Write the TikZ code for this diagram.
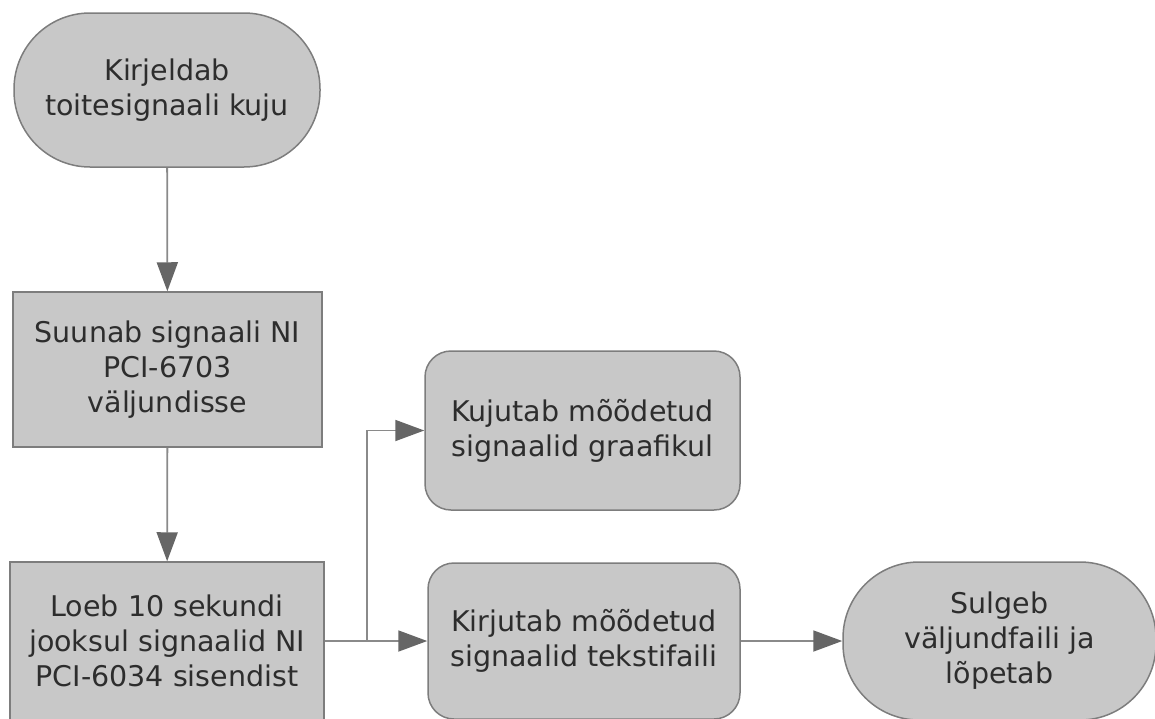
\documentclass[tikz,border=0pt]{standalone}
\usepackage{fontspec}
\setmainfont{DejaVu Sans}
\usetikzlibrary{arrows.meta,positioning}
\definecolor{boxfill}{RGB}{200,200,200}
\definecolor{boxline}{RGB}{125,125,125}
\definecolor{arrowgray}{RGB}{102,102,102}
\definecolor{linegray}{RGB}{138,138,138}
\definecolor{textgray}{RGB}{45,45,45}

\begin{document}
\begin{tikzpicture}[x=1pt, y=-1pt,
	every node/.style={font=\fontsize{28.5}{35}\selectfont, text=textgray, align=center},
	box/.style={draw=boxline, line width=1.5pt, fill=boxfill, minimum width=309pt, minimum height=155pt},
	roundbox/.style={box, rounded corners=26pt},
	terminal/.style={box, rounded corners=76pt},
	flow/.style={draw=linegray, line width=1.8pt, -{Triangle[length=29pt, width=21pt, color=arrowgray]}}]

	\useasboundingbox (0,0) rectangle (1155,718);
	\clip (0,0) rectangle (1155,718);

	% left column
	\node [terminal, minimum width=306pt, minimum height=154pt] (kirjeldab) at (167,90)
		{Kirjeldab\\toitesignaali kuju};
	\node [box] (suunab) at (167.5,369.5)
		{Suunab signaali NI\\PCI-6703\\väljundisse};
	\node [box, minimum width=314pt, minimum height=158pt] (loeb) at (167,641)
		{Loeb 10 sekundi\\jooksul signaalid NI\\PCI-6034 sisendist};

	% right part
	\node [roundbox, minimum width=315pt, minimum height=159pt] (kujutab) at (582.5,430.5)
		{Kujutab mõõdetud\\signaalid graafikul};
	\node [roundbox, minimum width=312pt, minimum height=156pt] (kirjutab) at (584,641)
		{Kirjutab mõõdetud\\signaalid tekstifaili};
	\node [terminal, minimum width=313pt, minimum height=158pt] (sulgeb) at (999.5,641)
		{Sulgeb\\väljundfaili ja\\lõpetab};
	\coordinate (haru) at (367,641);

	\draw [flow] (kirjeldab) -- (suunab);
	\draw [flow] (suunab) -- (loeb);
	\draw [linegray, line width=1.8pt] (loeb) -- (haru);
	\draw [flow] (haru) |- (kujutab);
	\draw [flow] (haru) -- (kirjutab);
	\draw [flow] (kirjutab) -- (sulgeb);

\end{tikzpicture}
\end{document}
